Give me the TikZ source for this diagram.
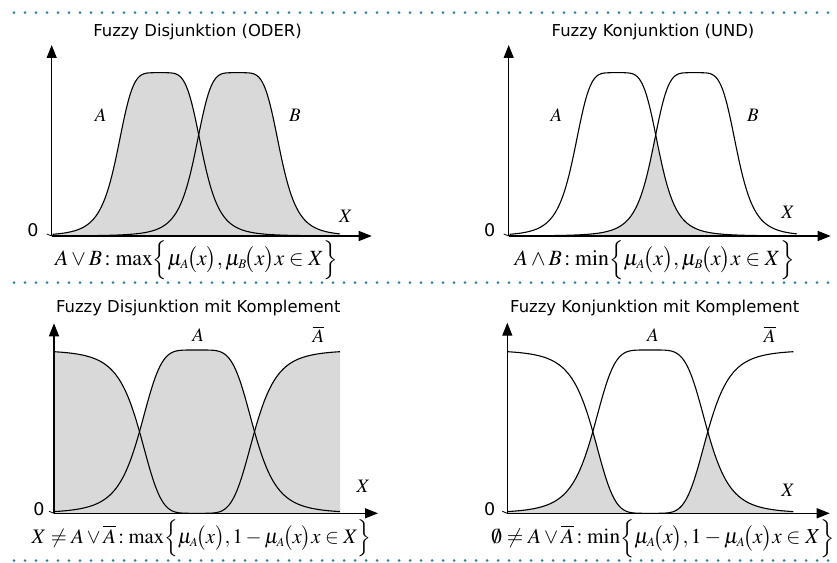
\documentclass[tikz,border=0pt]{standalone}
\usepackage{mathptmx}
\usepackage[no-math]{fontspec}
\usepackage{graphicx}
\usetikzlibrary{arrows.meta}
\newfontfamily\sansf{DejaVu Sans}
\definecolor{dotcol}{HTML}{31849B}
\definecolor{fillgray}{HTML}{D9D9D9}
\tikzset{
  axisline/.style={line width=1.3pt, -{Triangle[length=13pt,width=10pt]}},
  curve/.style={line width=1.1pt, black},
  shade/.style={fill=fillgray},
  ttl/.style={font=\sansf\fontsize{16.4}{19}\selectfont, inner sep=0pt},
  zero/.style={font=\sansf\fontsize{17.5}{20}\selectfont, inner sep=0pt},
  lbl/.style={font=\fontsize{19}{22}\selectfont, inner sep=0pt},
  formula/.style={inner sep=0pt},
  dots/.style={draw=dotcol, line width=3pt, line cap=round, dash pattern=on 0pt off 11pt},
}
\newcommand\muof[1]{\mu_{\scriptscriptstyle #1}\!\bigl(x\bigr)}
% membership functions (x in local px units)
\def\mAtop{(1/(1+(min(abs((\x-108)/43),6))^5))}
\def\mBtop{(1/(1+(min(abs((\x-186)/43),6))^5))}
\def\mAbot{(1/(1+(min(abs((\x-143)/57.5),6))^5))}
\def\H{163.3}
\begin{document}
\begin{tikzpicture}[x=1pt,y=1pt]
\useasboundingbox (0,0) rectangle (837,562);
% dotted separators
\draw[dots] (14,549.3) -- (837,549.3);
\draw[dots] (14,279.3) -- (837,279.3);
\draw[dots] (14,1.5) -- (837,1.5);

% ---------- Panel 1: Disjunktion ----------
\begin{scope}[shift={(51.7,326)}]
  \fill[shade] (1,0) -- plot[domain=1:288,samples=220] (\x,{\H*max(\mAtop,\mBtop)}) -- (288,0) -- cycle;
  \draw[curve] plot[domain=1:288,samples=220] (\x,{\H*\mAtop});
  \draw[curve] plot[domain=1:288,samples=220] (\x,{\H*\mBtop});
  \coordinate (o1) at (0,0);
  \coordinate (y1) at (0,191);
  \coordinate (x1) at (320,0);
  \draw[axisline] (o1) -- (y1);
  \draw[axisline] (o1) -- (x1);
  \node[zero] (z1) at (-18.7,6) {0};
  \draw[line width=0.8pt] (-5,2) -- (o1);
  \node[ttl] (t1) at (145.8,204.3) {Fuzzy Disjunktion (ODER)};
  \node[lbl] (a1) at (49,121) {$A$};
  \node[lbl] (b1) at (243.3,121) {$B$};
  \node[lbl] (X1) at (294,20) {$X$};
  \node[formula] (f1) at (145,-24) {\resizebox{283pt}{!}{$A\vee B\,{:}\,\max\Bigl\{\muof{A},\muof{B}x\in X\Bigr\}$}};
\end{scope}

% ---------- Panel 2: Konjunktion ----------
\begin{scope}[shift={(508.7,326)}]
  \fill[shade] (1,0) -- plot[domain=1:288,samples=220] (\x,{\H*min(\mAtop,\mBtop)}) -- (288,0) -- cycle;
  \draw[curve] plot[domain=1:288,samples=220] (\x,{\H*\mAtop});
  \draw[curve] plot[domain=1:288,samples=220] (\x,{\H*\mBtop});
  \coordinate (o2) at (0,0);
  \coordinate (y2) at (0,191);
  \coordinate (x2) at (322,0);
  \draw[axisline] (o2) -- (y2);
  \draw[axisline] (o2) -- (x2);
  \node[zero] (z2) at (-19,6) {0};
  \draw[line width=0.8pt] (-5,2) -- (o2);
  \node[ttl] (t2) at (144.3,204.3) {Fuzzy Konjunktion (UND)};
  \node[lbl] (a2) at (47.6,121) {$A$};
  \node[lbl] (b2) at (244.3,121) {$B$};
  \node[lbl] (X2) at (279.3,24) {$X$};
  \node[formula] (f2) at (146,-24) {\resizebox{280pt}{!}{$A\wedge B\,{:}\,\min\Bigl\{\muof{A},\muof{B}x\in X\Bigr\}$}};
\end{scope}

% ---------- Panel 3: Disjunktion mit Komplement ----------
\begin{scope}[shift={(54,48.7)}]
  \fill[shade] (0,0) -- plot[domain=0:286,samples=220] (\x,{\H*max(\mAbot,1-\mAbot)}) -- (286,0) -- cycle;
  \draw[curve] plot[domain=0:286,samples=220] (\x,{\H*\mAbot});
  \draw[curve] plot[domain=0:286,samples=220] (\x,{\H*(1-\mAbot)});
  \coordinate (o3) at (0,0);
  \coordinate (y3) at (0,190);
  \coordinate (x3) at (324,0);
  \draw[axisline] (o3) -- (y3);
  \draw[axisline] (o3) -- (x3);
  \node[zero] (z3) at (-15,4) {0};
  \draw[line width=0.8pt] (-5,2) -- (o3);
  \node[ttl] (t3) at (144.3,205) {Fuzzy Disjunktion mit Komplement};
  \node[lbl] (a3) at (144.3,178.3) {$A$};
  \node[lbl] (ab3) at (264.3,179) {$\overline{A}$};
  \node[lbl] (X3) at (309.3,26.6) {$X$};
  \node[formula] (f3) at (147.7,-25) {\resizebox{340pt}{!}{$X\neq A\vee\overline{A}\,{:}\,\max\Bigl\{\muof{A},1-\muof{A}x\in X\Bigr\}$}};
\end{scope}

% ---------- Panel 4: Konjunktion mit Komplement ----------
\begin{scope}[shift={(507.3,48.7)}]
  \fill[shade] (0,0) -- plot[domain=0:286,samples=220] (\x,{\H*min(\mAbot,1-\mAbot)}) -- (286,0) -- cycle;
  \draw[curve] plot[domain=0:286,samples=220] (\x,{\H*\mAbot});
  \draw[curve] plot[domain=0:286,samples=220] (\x,{\H*(1-\mAbot)});
  \coordinate (o4) at (0,0);
  \coordinate (y4) at (0,190.6);
  \coordinate (x4) at (322.4,0);
  \draw[axisline] (o4) -- (y4);
  \draw[axisline] (o4) -- (x4);
  \node[zero] (z4) at (-17.6,4) {0};
  \draw[line width=0.8pt] (-5,2) -- (o4);
  \node[ttl] (t4) at (147.4,205) {Fuzzy Konjunktion mit Komplement};
  \node[lbl] (a4) at (145.7,178.3) {$A$};
  \node[lbl] (ab4) at (262.4,179) {$\overline{A}$};
  \node[lbl] (X4) at (280.7,23.3) {$X$};
  \node[formula] (f4) at (155.7,-25) {\resizebox{343pt}{!}{$\emptyset\neq A\vee\overline{A}\,{:}\,\min\Bigl\{\muof{A},1-\muof{A}x\in X\Bigr\}$}};
\end{scope}
\end{tikzpicture}
\end{document}
